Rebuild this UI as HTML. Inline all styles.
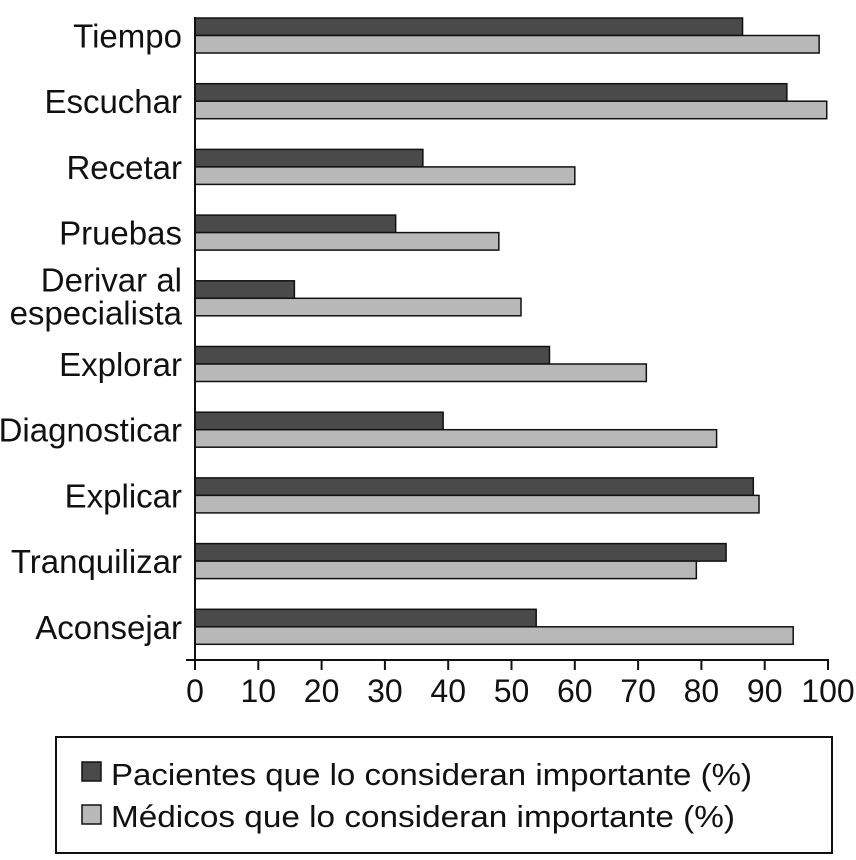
<!DOCTYPE html>
<html><head><meta charset="utf-8"><style>
body{margin:0;background:#fff;}
svg text{font-family:"Liberation Sans",sans-serif;fill:#111;}
</style></head><body>
<svg id="chart" width="856" height="855">
<g id="bars"></g>
<g id="axes"></g>
<g>
<rect x="56" y="737" width="776" height="116" fill="#fff" stroke="#111" stroke-width="2"/>
<rect x="82" y="762" width="19" height="19" fill="#4a4a4a" stroke="#111" stroke-width="1.5"/>
<text x="111" y="785" font-size="31" textLength="641" lengthAdjust="spacingAndGlyphs">Pacientes que lo consideran importante (%)</text>
<rect x="82" y="805" width="19" height="19" fill="#b8b8b8" stroke="#111" stroke-width="1.5"/>
<text x="111" y="827" font-size="31" textLength="624" lengthAdjust="spacingAndGlyphs">Médicos que lo consideran importante (%)</text>
</g>
</svg>
<script>
const categories=[["Tiempo"],["Escuchar"],["Recetar"],["Pruebas"],["Derivar al","especialista"],["Explorar"],["Diagnosticar"],["Explicar"],["Tranquilizar"],["Aconsejar"]];
const pacientes=[86.5,93.5,36,31.7,15.7,56,39.2,88.2,83.9,53.9];
const medicos=[98.6,99.8,60,48,51.5,71.3,82.4,89.1,79.2,94.5];
const ticks=[0,10,20,30,40,50,60,70,80,90,100];
const NS="http://www.w3.org/2000/svg";
const x=v=>195+v*6.33;
const yc=i=>35.5+i*65.7;
function mk(t,a,p){const e=document.createElementNS(NS,t);for(const k in a)e.setAttribute(k,a[k]);p.appendChild(e);return e;}
const bars=document.getElementById('bars'),axes=document.getElementById('axes');
categories.forEach((c,i)=>{
 const y=yc(i);
 const b1=mk('rect',{x:x(0),y:y-17.5,width:x(pacientes[i])-x(0),height:17.5,fill:'#4a4a4a',stroke:'#111','stroke-width':1.5},bars);
 
 
 const b2=mk('rect',{x:x(0),y:y,width:x(medicos[i])-x(0),height:17.5,fill:'#b8b8b8',stroke:'#111','stroke-width':1.5},bars);
 
 
 const t=mk('text',{x:182,'font-size':33,'text-anchor':'end'},axes);
 
 
 if(c.length==1){t.setAttribute('y',y+12);t.textContent=c[0];}
 else{c.forEach((s,j)=>{const ts=mk('tspan',{x:182,y:y-7+j*33},t);ts.textContent=s;});}
});
const ya=mk('line',{x1:195,y1:17,x2:195,y2:670,stroke:'#111','stroke-width':2},axes);


const xa=mk('line',{x1:186,y1:660,x2:x(100)+1,y2:660,stroke:'#111','stroke-width':2},axes);


ticks.forEach(v=>{
 const l=mk('line',{x1:x(v),y1:660,x2:x(v),y2:670,stroke:'#111','stroke-width':2},axes);
 
 
 const t=mk('text',{x:x(v),y:702,'font-size':32,'text-anchor':'middle'},axes);
 t.textContent=v;
 
 
});
</script>
</body></html>
